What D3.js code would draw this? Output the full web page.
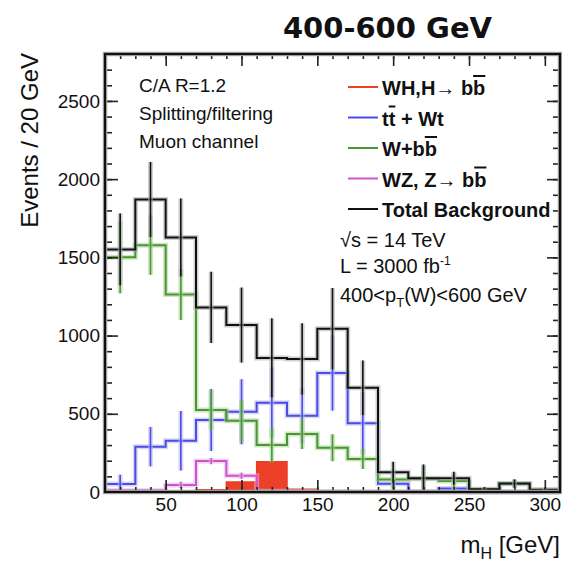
<!DOCTYPE html>
<html>
<head>
<meta charset="utf-8">
<script src="https://cdn.jsdelivr.net/npm/d3@7"></script>
<style>
  body { margin: 0; background: #fff; }
  text { font-family: "Liberation Sans", Arial, sans-serif; fill: #111; }
</style>
</head>
<body>
<div id="content"></div>
<script>
// bin centres of the m_H histogram (20 GeV bins, 10..310 GeV)
const massBins = [20, 40, 60, 80, 100, 120, 140, 160, 180, 200, 220, 240, 260, 280, 300];
const binWidth = 20;

// events per bin
const signalWH = [2, 2, 3, 15, 64, 194, 18, 5, 2, 0, 0, 0, 0, 0, 0];
const ttbarWt  = [51, 290, 328, 460, 513, 571, 488, 760, 439, 52, 3, 22, 0, 2, 0];
const wbb      = [1500, 1578, 1262, 524, 456, 300, 371, 283, 211, 80, 85, 70, 16, 52, 12];
const wzbb     = [10, 10, 45, 198, 104, 5, 5, 3, 2, 0, 0, 0, 0, 0, 0];
const totalBkg = [1551, 1870, 1627, 1180, 1067, 857, 850, 1044, 666, 126, 88, 88, 18, 55, 15];

// statistical errors (half length of the vertical bars)
const ttbarErr = [60, 126, 190, 198, 208, 224, 176, 240, 200, 30, 4, 15, 0, 3, 0];
const wbbErr   = [230, 190, 163, 128, 134, 110, 96, 86, 64, 64, 80, 50, 10, 28, 8];
const wzErr    = [8, 8, 20, 20, 20, 5, 5, 3, 2, 0, 0, 0, 0, 0, 0];
const totalErr = [230, 240, 250, 228, 240, 253, 228, 260, 175, 68, 88, 42, 10, 25, 8];

const xTicks = [50, 100, 150, 200, 250, 300];
const yTicks = [0, 500, 1000, 1500, 2000, 2500];

var width = 562, height = 568;
var padding = { top: 54, right: 2, bottom: 76, left: 105 };

var svg = d3.select("#content").append("svg")
    .attr("width", width)
    .attr("height", height);

var xScale = d3.scaleLinear()
    .domain([10, 310])
    .range([padding.left, width - padding.right]);
var yScale = d3.scaleLinear()
    .domain([0, 2800])
    .range([height - padding.bottom, padding.top]);

function stepPoints(values) {
    var pts = [];
    values.forEach(function (v, i) {
        pts.push([massBins[i] - binWidth / 2, v]);
        pts.push([massBins[i] + binWidth / 2, v]);
    });
    return pts;
}

var line = d3.line()
    .x(function (d) { return xScale(d[0]); })
    .y(function (d) { return yScale(d[1]); });

var area = d3.area()
    .x(function (d) { return xScale(d[0]); })
    .y0(yScale(0))
    .y1(function (d) { return yScale(d[1]); });

var plot = svg.append("g");

// signal drawn filled
plot.append("path")
    .attr("d", area(stepPoints(signalWH)))
    .attr("fill", "#ec4128")
    .attr("stroke", "#e83c28")
    .attr("stroke-width", 1.5);

function drawHist(values, errors, color, halo) {
    var g = plot.append("g");
    var pts = stepPoints(values);
    g.append("path").attr("d", line(pts))
        .attr("fill", "none").attr("stroke", halo).attr("stroke-width", 5).attr("stroke-opacity", 0.55);
    g.append("path").attr("d", line(pts))
        .attr("fill", "none").attr("stroke", color).attr("stroke-width", 2);
    if (!errors) return;
    var bars = massBins.map(function (m, i) { return [m, values[i], errors[i]]; })
        .filter(function (d) { return d[2] > 0; });
    g.selectAll("line.halo").data(bars).enter().append("line")
        .attr("x1", function (d) { return xScale(d[0]); })
        .attr("x2", function (d) { return xScale(d[0]); })
        .attr("y1", function (d) { return yScale(Math.max(0, d[1] - d[2])); })
        .attr("y2", function (d) { return yScale(d[1] + d[2]); })
        .attr("stroke", halo).attr("stroke-width", 5).attr("stroke-opacity", 0.55);
    g.selectAll("line.bar").data(bars).enter().append("line")
        .attr("x1", function (d) { return xScale(d[0]); })
        .attr("x2", function (d) { return xScale(d[0]); })
        .attr("y1", function (d) { return yScale(Math.max(0, d[1] - d[2])); })
        .attr("y2", function (d) { return yScale(d[1] + d[2]); })
        .attr("stroke", color).attr("stroke-width", 1.6);
}

drawHist(wzbb, wzErr, "#cc55cc", "#e8b0e8");
drawHist(ttbarWt, ttbarErr, "#4b4be6", "#b8b8f0");
drawHist(wbb, wbbErr, "#47982f", "#a8d098");
drawHist(totalBkg, totalErr, "#111", "#aaa");

// axes, ROOT style ticks inside on all sides
function styleAxis(g) {
    g.select(".domain").remove();
    g.selectAll(".tick line").attr("stroke", "#222").attr("stroke-width", 1.6);
    g.selectAll("text").style("font-size", "19px").attr("fill", "#222");
}

svg.append("g")
    .attr("transform", "translate(" + padding.left + ",0)")
    .call(d3.axisLeft(yScale).tickValues(d3.range(0, 2801, 100)).tickSize(-7).tickFormat(""))
    .call(styleAxis);
svg.append("g")
    .attr("transform", "translate(" + padding.left + ",0)")
    .call(d3.axisLeft(yScale).tickValues(yTicks).tickSize(-13).tickPadding(5).tickFormat(d3.format("d")))
    .call(styleAxis);
svg.append("g")
    .attr("transform", "translate(" + (width - padding.right) + ",0)")
    .call(d3.axisRight(yScale).tickValues(d3.range(0, 2801, 100)).tickSize(-7).tickFormat(""))
    .call(styleAxis);
svg.append("g")
    .attr("transform", "translate(" + (width - padding.right) + ",0)")
    .call(d3.axisRight(yScale).tickValues(yTicks).tickSize(-13).tickFormat(""))
    .call(styleAxis);

svg.append("g")
    .attr("transform", "translate(0," + (height - padding.bottom) + ")")
    .call(d3.axisBottom(xScale).tickValues(d3.range(10, 311, 10)).tickSize(-5).tickFormat(""))
    .call(styleAxis);
svg.append("g")
    .attr("transform", "translate(0," + (height - padding.bottom) + ")")
    .call(d3.axisBottom(xScale).tickValues(xTicks).tickSize(-12).tickPadding(6).tickFormat(d3.format("d")))
    .call(styleAxis);
svg.append("g")
    .attr("transform", "translate(0," + padding.top + ")")
    .call(d3.axisTop(xScale).tickValues(d3.range(10, 311, 10)).tickSize(-5).tickFormat(""))
    .call(styleAxis);
svg.append("g")
    .attr("transform", "translate(0," + padding.top + ")")
    .call(d3.axisTop(xScale).tickValues(xTicks).tickSize(-12).tickFormat(""))
    .call(styleAxis);

// frame
svg.append("rect")
    .attr("x", padding.left).attr("y", padding.top)
    .attr("width", width - padding.right - padding.left)
    .attr("height", height - padding.bottom - padding.top)
    .attr("fill", "none").attr("stroke", "#aaa").attr("stroke-width", 4.5);
svg.append("rect")
    .attr("x", padding.left).attr("y", padding.top)
    .attr("width", width - padding.right - padding.left)
    .attr("height", height - padding.bottom - padding.top)
    .attr("fill", "none").attr("stroke", "#111").attr("stroke-width", 2.2);

// titles
svg.append("text")
    .attr("x", 492).attr("y", 38)
    .style("text-anchor", "end")
    .style("font-family", "'DejaVu Sans', sans-serif")
    .style("font-weight", "bold")
    .style("font-size", "29px")
    .text("400-600 GeV");

svg.append("text")
    .attr("transform", "rotate(-90)")
    .attr("x", -53).attr("y", 38)
    .style("text-anchor", "end")
    .style("font-size", "24px")
    .text("Events / 20 GeV");

var xt = svg.append("text")
    .attr("x", 560).attr("y", 553)
    .style("text-anchor", "end")
    .style("font-size", "24px");
xt.append("tspan").text("m");
xt.append("tspan").attr("dy", 6).style("font-size", "16px").text("H");
xt.append("tspan").attr("dy", -6).text(" [GeV]");

// left labels
["C/A R=1.2", "Splitting/filtering", "Muon channel"].forEach(function (s, i) {
    svg.append("text")
        .attr("x", 139).attr("y", 92 + i * 28)
        .style("font-size", "19px")
        .text(s);
});

// legend
var legendNames = [
    [["WH,H\u2192 b", false], ["b", true]],
    [["t", false], ["t", true], [" + Wt", false]],
    [["W+b", false], ["b", true]],
    [["WZ, Z\u2192 b", false], ["b", true]],
    [["Total Background", false]]
];
var legendColors = ["#ec4128", "#4b4be6", "#47982f", "#cc55cc", "#111"];

legendNames.forEach(function (parts, i) {
    var yb = 95 + i * 30.5;
    svg.append("line")
        .attr("x1", 348).attr("x2", 378)
        .attr("y1", yb - 8).attr("y2", yb - 8)
        .attr("stroke", legendColors[i]).attr("stroke-width", 2);
    var t = svg.append("text")
        .attr("x", 382).attr("y", yb)
        .style("font-size", "20px")
        .style("font-weight", "bold");
    parts.forEach(function (p) {
        var sp = t.append("tspan").text(p[0]);
        if (p[1]) sp.style("text-decoration", "overline");
    });
});

// right info text
var t1 = svg.append("text").attr("x", 340).attr("y", 247).style("font-size", "20px");
t1.append("tspan").text("\u221As = 14 TeV");
var t2 = svg.append("text").attr("x", 340).attr("y", 273).style("font-size", "20px");
t2.append("tspan").text("L = 3000 fb");
t2.append("tspan").attr("dy", -8).style("font-size", "12px").text("-1");
var t3 = svg.append("text").attr("x", 340).attr("y", 302).style("font-size", "20px");
t3.append("tspan").text("400<p");
t3.append("tspan").attr("dy", 5).style("font-size", "13px").text("T");
t3.append("tspan").attr("dy", -5).text("(W)<600 GeV");
</script>
</body>
</html>
